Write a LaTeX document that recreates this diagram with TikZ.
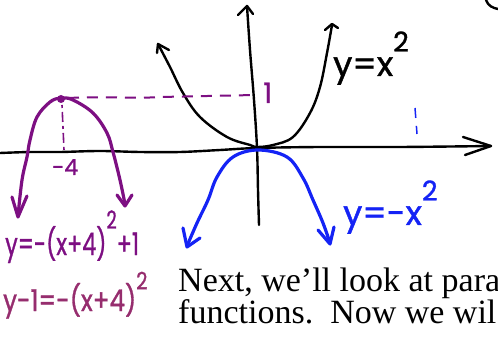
\documentclass[tikz,border=0pt]{standalone}
\usepackage{fontspec}
\usepackage{graphicx}
\setmainfont{Liberation Serif}
\newfontfamily\hand{Poppins}[FakeBold=1.2]
\definecolor{purp}{RGB}{125,15,130}
\definecolor{mauve}{RGB}{150,45,110}
\definecolor{hblue}{RGB}{20,35,245}
\newcommand\hsup[2][0.72em]{\raisebox{#1}{\scalebox{0.8}{#2}}}
\tikzset{
  blk/.style={line width=2.4pt, black, line cap=round, line join=round},
  pur/.style={line width=3.2pt, purp, line cap=round, line join=round},
  blu/.style={line width=3.2pt, hblue, line cap=round, line join=round},
  hw/.style={inner sep=0pt, anchor=base west},
  body/.style={inner sep=0pt, anchor=base west, font=\fontsize{34}{34}\selectfont}
}
\begin{document}
\begin{tikzpicture}[x=1pt,y=-1pt]
\useasboundingbox (0,0) rectangle (498,339);

% x axis
\coordinate (xr) at (491,146);
\draw[blk] plot[smooth, tension=0.6] coordinates {(0,153) (30,152) (60,152) (100,151) (140,152) (180,152) (220,150) (257,148) (320,147) (400,147) (491,146)};
\draw[blk] (463,137) -- (xr) -- (465,155);

% y axis
\coordinate (yt) at (247,6);
\draw[blk] plot[smooth, tension=0.6] coordinates {(247,6) (250,50) (254,100) (257,148) (258,190) (259,225)};
\draw[blk] (238,15) -- (yt) -- (253,14);

% y = x^2
\draw[blk] plot[smooth, tension=0.6] coordinates {(158,44) (170,67) (183,93) (200,117) (227,137) (250,145) (257,147) (273,145) (293,137) (310,113) (320,87) (327,53) (332,25)};
\draw[blk] (157,53) -- (158,44) -- (169,50);
\draw[blk] (325,30) -- (332,24) -- (338,28);

% y = -x^2
\draw[blu] plot[smooth, tension=0.6] coordinates {(187,246) (197,223) (208,200) (217,177) (233,157) (258,150) (287,157) (303,178) (313,200) (323,223) (330,243)};
\draw[blu] (183,228) -- (187,247) -- (200,238);
\draw[blu] (318,230) -- (330,244) -- (334,227);

% purple parabola
\draw[pur] plot[smooth, tension=0.6] coordinates {(18,216) (22,180) (27,157) (30,140) (37,117) (50,102) (61,98) (73,100) (93,113) (107,133) (113,152) (120,180) (125,204)};
\draw[pur] (12,197) -- (18,217) -- (27,196);
\draw[pur] (117,195) -- (125,206) -- (132,195);
\fill[purp] (61,99) circle (4);

% dashed guides
\draw[purp, line width=2pt, dash pattern=on 11pt off 8pt] (68,98) .. controls (110,96) and (130,99) .. (160,97) -- (255,95);
\draw[purp, line width=1.6pt, dash pattern=on 3pt off 4pt on 10pt off 4pt] (62,105) -- (64,150);
\draw[hblue, line width=1.5pt, dash pattern=on 10pt off 8pt] (415,108) -- (417,134);

% top-right fragment
\draw[blk] (486,0) .. controls (488,6) and (493,8) .. (498,9);

% handwritten labels
\node[hw, black, font=\hand\fontsize{34}{34}\selectfont] (lx) at (333,76) {y=x\hsup{2}};
\node[hw, hblue, font=\hand\fontsize{34}{34}\selectfont] (lnx) at (343,225) {y=-x\hsup{2}};
\node[hw, purp, font=\hand\fontsize{31}{31}\selectfont] (lv) at (5,255) {\scalebox{0.72}[1]{y=-(x+4)\hsup[0.85em]{2}+1}};
\node[hw, mauve, font=\hand\fontsize{30}{30}\selectfont] (lw) at (3,311) {\scalebox{0.82}[1]{y-1=-(x+4)\hsup{2}}};
\node[hw, purp, font=\hand\fontsize{22}{22}\selectfont] (lm4) at (52,175) {-4};
\node[hw, purp, font=\hand\fontsize{28}{28}\selectfont] (l1) at (263,103) {1};

% printed text
\node[body] (t1) at (178,291) {Next, we’ll look at para};
\node[body] (t2) at (178,323) {functions.\hspace{0.5em}Now we wil};
\end{tikzpicture}
\end{document}
